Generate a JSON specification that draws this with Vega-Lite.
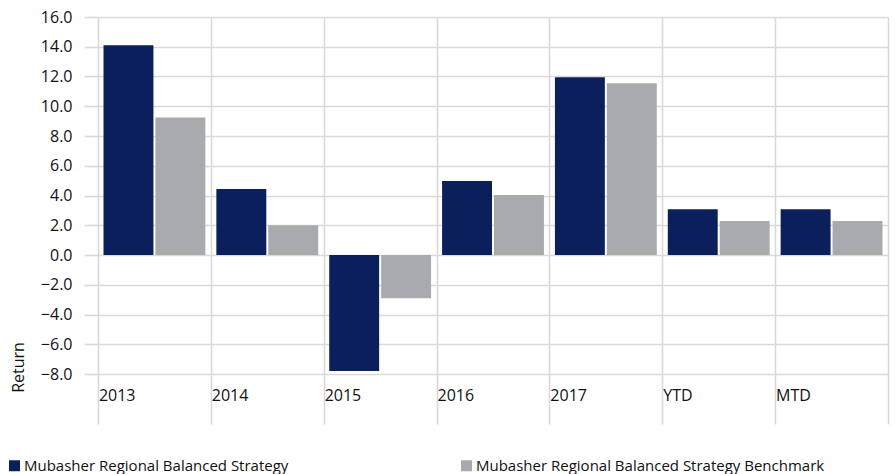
{
  "$schema": "https://vega.github.io/schema/vega-lite/v6.json",
  "autosize": {"type": "none"},
  "width": 790,
  "height": 357,
  "padding": {"left": 98, "top": 17, "right": 7, "bottom": 100},
  "background": "white",
  "config": {
    "view": {"stroke": null},
    "font": "Open Sans",
    "axis": {"labelColor": "#111111", "titleColor": "#111111", "labelFont": "Open Sans", "titleFont": "Open Sans"}
  },
  "data": {
    "values": [
      {"period": "2013", "series": "Mubasher Regional Balanced Strategy", "ret": 14.1},
      {"period": "2013", "series": "Mubasher Regional Balanced Strategy Benchmark", "ret": 9.25},
      {"period": "2014", "series": "Mubasher Regional Balanced Strategy", "ret": 4.43},
      {"period": "2014", "series": "Mubasher Regional Balanced Strategy Benchmark", "ret": 2.0},
      {"period": "2015", "series": "Mubasher Regional Balanced Strategy", "ret": -7.8},
      {"period": "2015", "series": "Mubasher Regional Balanced Strategy Benchmark", "ret": -2.9},
      {"period": "2016", "series": "Mubasher Regional Balanced Strategy", "ret": 4.97},
      {"period": "2016", "series": "Mubasher Regional Balanced Strategy Benchmark", "ret": 4.03},
      {"period": "2017", "series": "Mubasher Regional Balanced Strategy", "ret": 11.95},
      {"period": "2017", "series": "Mubasher Regional Balanced Strategy Benchmark", "ret": 11.55},
      {"period": "YTD", "series": "Mubasher Regional Balanced Strategy", "ret": 3.07},
      {"period": "YTD", "series": "Mubasher Regional Balanced Strategy Benchmark", "ret": 2.28},
      {"period": "MTD", "series": "Mubasher Regional Balanced Strategy", "ret": 3.07},
      {"period": "MTD", "series": "Mubasher Regional Balanced Strategy Benchmark", "ret": 2.28}
    ]
  },
  "mark": {"type": "bar"},
  "encoding": {
    "x": {
      "field": "period",
      "type": "nominal",
      "sort": null,
      "scale": {"paddingInner": 0, "paddingOuter": 0},
      "axis": {
        "title": null,
        "domain": false,
        "grid": true,
        "gridColor": "#d9d9d9",
        "gridWidth": 1.6,
        "ticks": true,
        "tickBand": "extent",
        "tickSize": 50,
        "tickColor": "#d9d9d9",
        "tickWidth": 1.6,
        "labelAngle": 0,
        "labelAlign": "left",
        "labelBaseline": "top",
        "labelOffset": -56,
        "labelPadding": -37,
        "labelFontSize": 16
      }
    },
    "xOffset": {
      "field": "series",
      "type": "nominal",
      "scale": {"paddingInner": 0.0385, "paddingOuter": 0.106}
    },
    "y": {
      "field": "ret",
      "type": "quantitative",
      "scale": {"domain": [-8, 16], "nice": false, "zero": false},
      "axis": {
        "title": "Return",
        "titleFontSize": 16,
        "titleFontWeight": "normal",
        "titleX": -80,
        "titleY": 350,
        "titleAngle": -90,
        "titleAlign": "center",
        "titleBaseline": "middle",
        "values": [-8, -6, -4, -2, 0, 2, 4, 6, 8, 10, 12, 14, 16],
        "format": ".1f",
        "domain": false,
        "grid": true,
        "gridColor": "#d9d9d9",
        "gridWidth": 1.6,
        "ticks": true,
        "tickSize": 14,
        "tickColor": "#d9d9d9",
        "tickWidth": 1.6,
        "labelPadding": 12,
        "labelFontSize": 16
      }
    },
    "color": {
      "field": "series",
      "type": "nominal",
      "scale": {
        "domain": ["Mubasher Regional Balanced Strategy", "Mubasher Regional Balanced Strategy Benchmark"],
        "range": ["#0c1f5d", "#a9aaae"]
      },
      "legend": {
        "title": null,
        "orient": "none",
        "legendX": -91,
        "legendY": 441,
        "direction": "horizontal",
        "columns": 2,
        "columnPadding": 170,
        "symbolType": "square",
        "symbolSize": 121,
        "symbolStrokeWidth": 0,
        "symbolOpacity": 1,
        "labelFontSize": 15,
        "labelColor": "#111111",
        "labelLimit": 500,
        "labelOffset": 2
      }
    }
  }
}
